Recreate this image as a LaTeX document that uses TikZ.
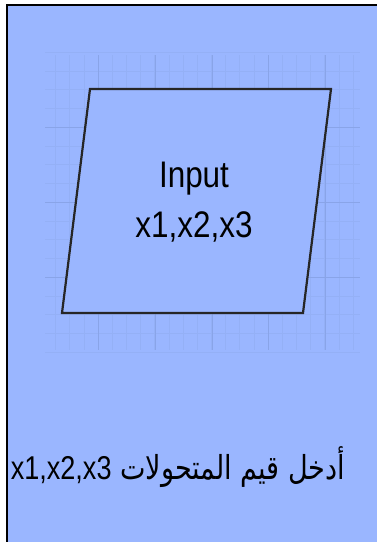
\documentclass[tikz,border=0pt]{standalone}
\usepackage{fontspec}
\setmainfont{Liberation Sans}
\newfontfamily\arabicfont[Script=Arabic]{DejaVu Sans}
\TeXXeTstate=1
\usepackage{xcolor}
\definecolor{bgblue}{RGB}{154,182,255}
\definecolor{gridminor}{RGB}{148,176,246}
\definecolor{gridmajor}{RGB}{137,164,232}
\usetikzlibrary{positioning}

\begin{document}
\begin{tikzpicture}[x=1pt,y=-1pt,
  shapeline/.style={draw=black!85, line width=2.2pt, line join=miter},
  bigtext/.style={font=\fontsize{37}{50}\selectfont, align=center, xscale=0.85, inner sep=0pt}]
  \useasboundingbox (0,0) rectangle (377,542);
  % Panel
  \fill[white] (0,0) rectangle (377,542);
  \fill[bgblue] (7,5) rectangle (377,542);
  \draw[black, line width=2pt] (7,542) -- (7,5) -- (377,5);

  % Grid
  \foreach \k in {1,...,22}
    \draw[gridminor, line width=0.5pt] ({41.3+\k*14.17},55) -- ({41.3+\k*14.17},350);
  \foreach \k in {0,...,16}
    \draw[gridminor, line width=0.5pt] (45,{52+\k*18.75}) -- (360,{52+\k*18.75});
  \foreach \x in {98,155,212,268,325}
    \draw[gridmajor, line width=0.7pt] (\x,55) -- (\x,350);
  \foreach \y in {127,202,277}
    \draw[gridmajor, line width=0.7pt] (45,\y) -- (360,\y);

  % Input shape
  \draw[shapeline, fill=bgblue] (90,89) -- (331,89) -- (303,313) -- (62,313) -- cycle;
  \node[bigtext] (input) at (194,202) {Input\\x1,x2,x3};

  % Caption
  \node[font=\arabicfont\fontsize{33}{36}\selectfont, xscale=0.82, inner sep=0pt] (caption) at (178,467)
    {\beginR أدخل قيم المتحولات \beginL\fontspec{Liberation Sans}x1,x2,x3\endL\endR};
\end{tikzpicture}
\end{document}
